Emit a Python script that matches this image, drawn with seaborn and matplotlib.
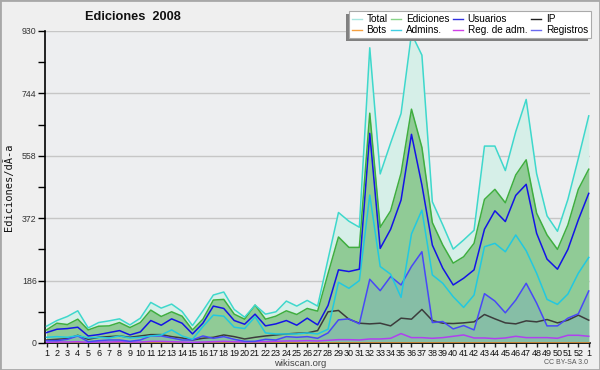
import matplotlib
matplotlib.use("Agg")
import matplotlib.pyplot as plt
from matplotlib.patches import Rectangle
from matplotlib.lines import Line2D
from matplotlib.ticker import MultipleLocator
import seaborn as sns
import pandas as pd

weeks = list(range(1, 54))
week_labels = [str(i) for i in range(1, 53)] + ["1"]

total = [50, 67, 79, 96, 45, 61, 66, 72, 54, 74, 121, 104, 116, 94, 52, 96, 143, 152, 100, 77,
         113, 86, 93, 125, 110, 127, 110, 250, 389, 363, 345, 880, 504, 596, 684, 922, 858, 421, 352, 280,
         307, 336, 587, 587, 514, 630, 726, 505, 379, 333, 428, 550, 677]
ediciones = [39, 59, 55, 71, 39, 50, 51, 61, 46, 61, 98, 79, 93, 80, 39, 71, 128, 130, 86, 71,
             113, 71, 80, 96, 85, 103, 95, 207, 316, 285, 285, 685, 345, 394, 506, 697, 583, 359, 292, 238,
             257, 297, 428, 458, 418, 501, 546, 387, 322, 279, 352, 458, 518]
usuarios = [31, 41, 43, 47, 21, 25, 31, 37, 24, 33, 67, 53, 72, 59, 27, 59, 110, 103, 67, 56,
            86, 51, 57, 67, 53, 74, 54, 112, 218, 213, 220, 625, 282, 339, 426, 622, 471, 292, 223, 173,
            193, 218, 339, 394, 362, 440, 473, 327, 250, 220, 279, 367, 446]
ip = [9, 11, 13, 23, 11, 17, 19, 21, 17, 21, 25, 25, 19, 15, 9, 14, 17, 24, 19, 12,
      17, 21, 24, 27, 29, 30, 37, 93, 97, 71, 59, 57, 59, 51, 74, 71, 100, 67, 59, 58,
      60, 63, 85, 72, 60, 57, 66, 63, 70, 60, 68, 83, 68]
bots = [0] * 53
admins = [17, 19, 17, 22, 15, 17, 15, 21, 15, 17, 21, 24, 39, 21, 11, 49, 83, 80, 47, 43,
          78, 30, 27, 27, 27, 30, 27, 41, 181, 163, 186, 441, 228, 205, 136, 325, 396, 203, 178, 138,
          106, 143, 287, 297, 272, 322, 275, 208, 130, 115, 146, 208, 255]
reg_adm = [2, 3, 3, 4, 2, 3, 3, 4, 3, 3, 5, 5, 4, 3, 2, 3, 4, 5, 4, 3,
           4, 4, 5, 6, 6, 7, 6, 8, 10, 10, 9, 12, 12, 14, 28, 16, 16, 14, 16, 20,
           24, 15, 15, 13, 15, 20, 16, 16, 16, 14, 23, 23, 20]
registros = [7, 7, 11, 21, 4, 7, 9, 9, 5, 9, 21, 21, 15, 9, 9, 21, 14, 19, 11, 5,
             5, 11, 9, 19, 17, 19, 14, 30, 69, 72, 57, 190, 156, 198, 173, 228, 272, 61, 64, 42,
             52, 39, 147, 125, 90, 128, 178, 119, 51, 51, 74, 87, 155]

series_names = ["Total", "Bots", "Ediciones", "Admins.", "Usuarios", "Reg. de adm.", "IP", "Registros"]
series_vals = [total, bots, ediciones, admins, usuarios, reg_adm, ip, registros]
line_colors = {"Total": "#3ed8cc", "Bots": "#f5a040", "Ediciones": "#3fae3f", "Admins.": "#22c8e0",
               "Usuarios": "#1414e6", "Reg. de adm.": "#b040f0", "IP": "#3c3c3c", "Registros": "#4848f8"}
legend_colors = {"Total": "#a8e6e0", "Bots": "#f5a040", "Ediciones": "#88d488", "Admins.": "#40d0e4",
                 "Usuarios": "#3030e0", "Reg. de adm.": "#d040e8", "IP": "#202020", "Registros": "#6a6af0"}

df = pd.DataFrame({"week": weeks})
for n, v in zip(series_names, series_vals):
    df[n] = v

fig = plt.figure(figsize=(6, 3.7), dpi=100, facecolor="#efefef")
fig.patches.append(Rectangle((0, 0), 1, 1, transform=fig.transFigure, fill=False,
                             edgecolor="#a8a8a8", lw=2, zorder=10))
ax = fig.add_axes([45 / 600, 27 / 370, 545 / 600, 312 / 370])
ax.set_facecolor("#edeef0")

# fills
ax.fill_between(df["week"], 0, df["Total"], color="#d6efe8", lw=0, zorder=1)
ax.fill_between(df["week"], 0, df["Ediciones"], color="#90cb96", lw=0, zorder=1.1)
ax.fill_between(df["week"], 0, df["Registros"], color="#86bea6", lw=0, zorder=1.2)

draw_order = ["Bots", "Reg. de adm.", "IP", "Registros", "Admins.", "Usuarios", "Ediciones", "Total"]
for i, n in enumerate(draw_order):
    sns.lineplot(data=df, x="week", y=n, ax=ax, color=line_colors[n], lw=1.1, zorder=3 + i * 0.1)

ax.set_xlim(0.856, 53.12)
ax.set_ylim(0, 930)
ax.set_yticks([0, 186, 372, 558, 744, 930])
ax.yaxis.set_minor_locator(MultipleLocator(93))
ax.set_xticks(weeks)
ax.set_xticklabels(week_labels, fontsize=6.5, family="Liberation Sans", color="#111")
for lbl in ax.get_yticklabels():
    lbl.set_family("Liberation Sans")
ax.tick_params(axis="x", length=3, width=1, pad=1, color="#222")
ax.tick_params(axis="y", which="both", length=5, width=1, labelsize=6.3, labelcolor="#333", pad=1)
ax.grid(axis="y", color="#c6c6c6", lw=1, zorder=0.5)
ax.set_axisbelow(True)
for s in ["top", "right"]:
    ax.spines[s].set_visible(False)
for s in ["left", "bottom"]:
    ax.spines[s].set_color("black")
    ax.spines[s].set_linewidth(1.2)
ax.set_xlabel("")
ax.set_ylabel("")

fig.text(85 / 600, 1 - 17 / 370, "Ediciones  2008", fontsize=9.2, fontweight="bold",
         family="Liberation Sans", va="center", ha="left", color="#111")
fig.text(9 / 600, 1 - 187 / 370, "Ediciones/dÃ-a", rotation=90, va="center", ha="center",
         fontsize=7.5, family="DejaVu Sans Mono", color="#111")
fig.text(300 / 600, 1 - 363.5 / 370, "wikiscan.org", ha="center", va="center", fontsize=6.8,
         family="Liberation Sans", color="#444")
fig.text(588 / 600, 1 - 363 / 370, "CC BY-SA 3.0", ha="right", va="center", fontsize=5,
         family="Liberation Sans", color="#555")

handles = [Line2D([0], [0], color=legend_colors[n], lw=1) for n in series_names]
leg = fig.legend(handles, series_names, ncol=4, loc="upper right",
                 bbox_to_anchor=(591 / 600, 1 - 11 / 370), frameon=True,
                 prop={"family": "Liberation Sans", "size": 7.2},
                 fancybox=False, edgecolor="#aaaaaa", facecolor="white", framealpha=1,
                 handlelength=1.0, handletextpad=0.45, columnspacing=0.4, labelspacing=0.1,
                 borderpad=0.3, borderaxespad=0)
leg.get_frame().set_linewidth(0.8)
fig.canvas.draw()
bb = leg.get_window_extent()
W, H = fig.bbox.width, fig.bbox.height
fig.patches.append(Rectangle(((bb.x0 - 3) / W, (bb.y0 - 3) / H), bb.width / W, bb.height / H,
                             transform=fig.transFigure, facecolor="#808080", edgecolor="none",
                             zorder=4))
fig.savefig("out.png", dpi=100, facecolor=fig.get_facecolor())
